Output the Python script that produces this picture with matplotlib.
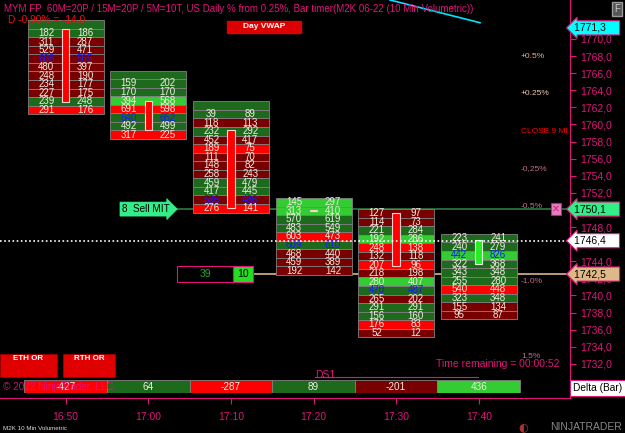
import numpy as np
import matplotlib
matplotlib.use("Agg")
import matplotlib.pyplot as plt
from matplotlib.patches import Rectangle

plt.rcParams['font.family'] = ['Liberation Sans', 'DejaVu Sans']

# ---- data ----
times = ["16:50", "17:00", "17:10", "17:20", "17:30", "17:40"]
top_price = [1770.7, 1764.8, 1761.2, 1750.9, 1749.6, 1746.7]
has_header = [True, True, True, False, False, False]

bid = [
    [182, 311, 529, 608, 480, 248, 234, 227, 239, 291],
    [159, 170, 394, 691, 640, 492, 317],
    [39, 118, 232, 452, 189, 111, 148, 258, 459, 417, 536, 276],
    [145, 313, 570, 483, 603, 609, 468, 459, 192],
    [127, 114, 221, 192, 248, 132, 207, 218, 280, 470, 265, 291, 156, 176, 52],
    [223, 240, 442, 322, 343, 255, 540, 323, 155, 95],
]
ask = [
    [186, 287, 471, 565, 397, 190, 177, 175, 248, 176],
    [202, 170, 568, 598, 652, 499, 225],
    [89, 113, 292, 417, 75, 70, 82, 243, 479, 445, 486, 141],
    [297, 410, 619, 549, 473, 610, 440, 389, 142],
    [97, 73, 284, 286, 138, 118, 96, 198, 407, 487, 202, 291, 160, 83, 12],
    [241, 279, 826, 368, 348, 280, 448, 348, 134, 87],
]
# row shade: g = dark green, r = dark red, G = bright green, R = bright red
shade = [
    "grrrrrrrgR",
    "ggGRggR",
    "grgrRrrrggrR",
    "GGggRgrrr",
    "rrgGRrRrGgrggRr",
    "ggGgggRgrr",
]
poc_row = [3, 4, 10, 5, 9, 2]

candle_open = [1771.2, 1762.7, 1759.4, 1750.0, 1749.7, 1743.7]
candle_close = [1762.6, 1759.3, 1750.2, 1749.9, 1743.5, 1746.5]

delta = [-427, 64, -287, 89, -201, 436]
delta_shade = ["R", "g", "R", "g", "r", "G"]

price_ticks = np.arange(1732, 1771, 2)
hidden_ticks = [1746, 1750]
last_price = 1771.3
sell_mit = 1750.1
ask_line = 1746.4
pos_price = 1742.5

colors = {"g": "#1d6a1d", "r": "#780000", "G": "#33cc33", "R": "#ff0000"}
magenta = "#e0147a"


def px(x):
    # pixel column -> bar units
    return (x - 65.7) / 82.6


fig = plt.figure(figsize=(6.25, 4.33), dpi=100, facecolor="black")
ax = fig.add_axes([0, 35 / 433, 570 / 625, 398 / 433], facecolor="black")
ax.set_xlim(-0.795, 6.105)
ax.set_ylim(1728.0, 1774.56)

# footprint cells
for i in range(6):
    prices = top_price[i] - np.arange(len(bid[i]))
    cols = [colors[c] for c in shade[i]]
    if has_header[i]:
        ax.bar(i, 1, bottom=top_price[i] + 0.5, width=0.92, color=colors["g"],
               edgecolor="#808080", linewidth=0.6, zorder=2)
    ax.bar([i] * len(prices), 1, bottom=prices - 0.5, width=0.92, color=cols,
           edgecolor="#808080", linewidth=0.6, zorder=2)
    for k, p in enumerate(prices):
        tc = "#1a1aff" if k == poc_row[i] else "#f0ece0"
        ax.text(i - 0.235, p, str(bid[i][k]), color=tc, fontsize=7,
                ha="center", va="center", zorder=4)
        ax.text(i + 0.235, p, str(ask[i][k]), color=tc, fontsize=7,
                ha="center", va="center", zorder=4)
    lo = min(candle_open[i], candle_close[i])
    hi = max(candle_open[i], candle_close[i])
    up = candle_close[i] > candle_open[i]
    ax.add_patch(Rectangle((i - 0.045, lo), 0.09, max(hi - lo, 0.15),
                           facecolor="#22ee22" if up else "#ff0000",
                           edgecolor="#ffd0d0" if not up else "#e0ffe0",
                           linewidth=0.8, zorder=3))

# horizontal order / price lines
ax.axhline(ask_line, color="white", linestyle=(0, (1, 1.5)), linewidth=1.2, zorder=5)
ax.plot([px(176), 6.105], [sell_mit, sell_mit], color="#2f7a45", linewidth=1.2, zorder=1)
ax.plot([px(252), 6.105], [pos_price, pos_price], color="#d9b38c", linewidth=1.2, zorder=1)

# cyan trend line
ax.plot([px(390), px(480)], [1774.56, 1771.9], color="#00e5ff", linewidth=1.2, zorder=5)

# axes style
for s in ["top", "left"]:
    ax.spines[s].set_visible(False)
ax.spines["right"].set_color(magenta)
ax.spines["bottom"].set_color(magenta)
ax.yaxis.tick_right()
ax.set_yticks(price_ticks)
ax.set_yticklabels(["" if p in hidden_ticks else f"{p:.1f}".replace(".", ",")
                    for p in price_ticks])
ax.tick_params(axis="y", colors=magenta, labelcolor=magenta, labelsize=7.5,
               length=4, pad=3)
ax.set_xticks(range(6))
ax.set_xticklabels(times)
ax.tick_params(axis="x", colors=magenta, labelcolor=magenta, labelsize=7.5,
               length=4, pad=6)


# right-side price markers
def marker(price, text, fc, tc="black"):
    ax.annotate(text, xy=(1.0, price), xycoords=("axes fraction", "data"),
                xytext=(3, 0), textcoords="offset points", fontsize=7.5,
                color=tc, va="center", ha="left", annotation_clip=False,
                bbox=dict(boxstyle="larrow,pad=0.2", fc=fc, ec=magenta, lw=0.8),
                zorder=10)


marker(last_price, "1771,3    ", "#00ffff")
marker(sell_mit, "1750,1    ", "#33ee88")
marker(ask_line, "1746,4    ", "white")
marker(pos_price, "1742,5    ", "#deb887")

# percentage levels
pct = [("+0.5%", 1768.0, "#e8b090"), ("+0.25%", 1763.6, "#e8c8b0"),
       ("CLOSE 9 MI", 1759.2, "#ff0000"), ("-0,25%", 1754.8, "#c07090"),
       ("-0.5%", 1750.35, "#c07090"), ("-1.0%", 1741.6, "#c07090"),
       ("1.5%", 1732.9, "#c07090")]
for t, p, c in pct:
    ax.text(px(521), p, t, color=c, fontsize=6, va="center",
            ha="left", zorder=6)

# X box on sell mit
ax.text(px(556), sell_mit, "✕", color=magenta, fontsize=7, family="DejaVu Sans",
        ha="center", va="center", zorder=7,
        bbox=dict(boxstyle="square,pad=0.1", fc="#e080c0", ec=magenta, lw=0.8))

# sell MIT label
ax.text(px(122), sell_mit, "8  Sell MIT", color="black", fontsize=7.2,
        ha="left", va="center", zorder=7,
        bbox=dict(boxstyle="rarrow,pad=0.2", fc="#33ee88", ec="#33ee88", lw=0.5))

# position box
ax.add_patch(Rectangle((px(177), pos_price - 0.95), 56 / 82.6, 1.9,
                       facecolor="black", edgecolor=magenta, linewidth=0.8, zorder=6))
ax.add_patch(Rectangle((px(233), pos_price - 0.95), 20 / 82.6, 1.9,
                       facecolor="#22dd22", edgecolor=magenta, linewidth=0.8, zorder=6))
ax.text(px(243), pos_price, "10", color="black", fontsize=7.5,
        ha="center", va="center", zorder=7)
ax.text(px(205), pos_price, "39", color="#22aa22", fontsize=7.5,
        ha="center", va="center", zorder=7)

# top texts
fig.text(4 / 625, 1 - 9 / 433,
         "MYM FP  60M=20P / 15M=20P / 5M=10T, US Daily % from 0.25%, Bar timer(M2K 06-22 (10 Min Volumetric))",
         color=magenta, fontsize=7.0, va="center", ha="left")
fig.text(8 / 625, 1 - 19 / 433, "D -0,90% = -14,0", color="#ee1111",
         fontsize=7.3, va="center", ha="left")
fig.patches.append(Rectangle((227 / 625, 1 - 33 / 433), 74 / 625, 12 / 433,
                             transform=fig.transFigure, facecolor="#dd0000",
                             edgecolor="#dd0000"))
fig.text(264 / 625, 1 - 27 / 433, "Day VWAP", color="white", fontsize=6,
         weight="bold", va="center", ha="center")
fig.text(617 / 625, 1 - 9 / 433, "F", color="#cccccc", fontsize=7,
         va="center", ha="center",
         bbox=dict(boxstyle="square,pad=0.2", fc="#555555", ec="#999999"))

# ETH / RTH buttons
for x0, w, lbl in [(0, 57, "ETH OR"), (63, 52, "RTH OR")]:
    fig.patches.append(Rectangle((x0 / 625, 1 - 377 / 433), w / 625, 23 / 433,
                                 transform=fig.transFigure, facecolor="#e00000",
                                 edgecolor="#990000", linewidth=0.6))
    fig.text((x0 + w / 2) / 625, 1 - 359 / 433, lbl, color="white", fontsize=5.8,
             weight="bold", ha="center", va="center")

# timer and DS1
fig.text(560 / 625, 1 - 364 / 433, "Time remaining = 00:00:52", color=magenta,
         fontsize=7.5, ha="right", va="center")
ax.plot([px(315), px(478)], [1730.5, 1730.5], color=magenta, linewidth=0.8, zorder=6)
fig.text(315 / 625, 1 - 375 / 433, "DS1", color=magenta, fontsize=7.5,
         ha="left", va="center")

# delta row
dax = fig.add_axes([0, (433 - 393) / 433, 570 / 625, 13 / 433])
dax.set_xlim(ax.get_xlim())
dax.set_ylim(0, 1)
dax.axis("off")
dax.patch.set_alpha(0)
dax.bar(range(6), 1, width=1.0, color=[colors[c] for c in delta_shade],
        edgecolor="#808080", linewidth=0.6)
for i, v in enumerate(delta):
    dax.text(i, 0.5, str(v), color="#f0ece0", fontsize=7.2, ha="center", va="center")
fig.text(3 / 625, 1 - 387 / 433, "© 2022 NinjaTrader, LLC", color=magenta,
         fontsize=7.2, ha="left", va="center", alpha=0.9)
fig.text(598 / 625, 1 - 388 / 433, "Delta (Bar)", color="black", fontsize=7.3,
         ha="center", va="center",
         bbox=dict(boxstyle="square,pad=0.3", fc="white", ec=magenta, lw=0.8))

# footer
fig.text(3 / 625, 1 - 428 / 433, "M2K 10 Min Volumetric", color="#dddddd",
         fontsize=4.5, ha="left", va="center")
fig.text(622 / 625, 1 - 427 / 433, "NINJATRADER", color="#888888",
         fontsize=7.5, ha="right", va="center")
fig.text(518 / 625, 1 - 427 / 433, "◐", color="#aa3333", fontsize=8,
         family="DejaVu Sans", ha="left", va="center")

fig.savefig("out.png", dpi=100, facecolor="black")
